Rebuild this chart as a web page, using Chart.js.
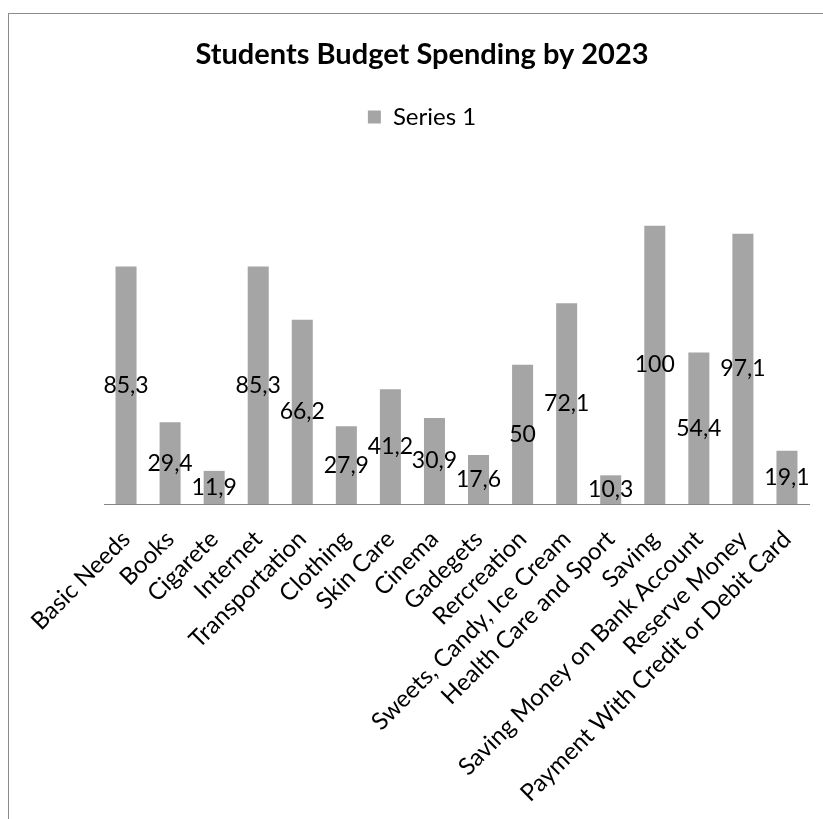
<!DOCTYPE html>
<html>
<head>
<meta charset="utf-8">
<title>Students Budget Spending by 2023</title>
<script src="https://cdn.jsdelivr.net/npm/chart.js@4.4.1/dist/chart.umd.min.js"></script>
<style>
  html, body { margin: 0; padding: 0; background: #fff; overflow: hidden; }
  #frame {
    position: absolute; left: 8px; top: 13px; width: 900px; height: 900px;
    border-left: 1px solid #8c8c8c; border-top: 1px solid #8c8c8c;
  }
  #budgetChart { position: absolute; left: 0; top: 0; }
</style>
</head>
<body>
<div id="frame"></div>
<canvas id="budgetChart" width="844" height="819"></canvas>
<script>
const categories = [
  'Basic Needs', 'Books', 'Cigarete', 'Internet', 'Transportation', 'Clothing',
  'Skin Care', 'Cinema', 'Gadegets', 'Rercreation', 'Sweets, Candy, Ice Cream',
  'Health Care and Sport', 'Saving', 'Saving Money on Bank Account',
  'Reserve Money', 'Payment With Credit or Debit Card'
];
const series1 = [85.3, 29.4, 11.9, 85.3, 66.2, 27.9, 41.2, 30.9, 17.6, 50, 72.1, 10.3, 100, 54.4, 97.1, 19.1];
const yMax = 120;

const FONT = 'Lato, "Open Sans", sans-serif';

document.addEventListener('DOMContentLoaded', function () {
  const ctx = document.getElementById('budgetChart').getContext('2d');

  // value labels in the middle of each bar, comma as decimal mark
  const barValueLabels = {
    id: 'barValueLabels',
    afterDatasetsDraw(chart) {
      const c = chart.ctx;
      c.save();
      c.font = '23px ' + FONT;
      c.fillStyle = '#000';
      c.textAlign = 'center';
      c.textBaseline = 'middle';
      chart.getDatasetMeta(0).data.forEach((bar, i) => {
        const txt = String(series1[i]).replace('.', ',');
        c.fillText(txt, bar.x, (bar.y + bar.base) / 2);
      });
      c.restore();
    }
  };

  // extra room under the legend
  const legendGap = {
    id: 'legendGap',
    beforeInit(chart) {
      const origFit = chart.legend.fit;
      chart.legend.fit = function () {
        origFit.bind(chart.legend)();
        this.height += 31;
      };
    }
  };

  // invisible side scales just to reserve room left/right of the plot
  const spacer = (w) => ({
    display: true,
    grid: { display: false },
    border: { display: false },
    ticks: { display: false },
    afterFit(scale) { scale.width = w; }
  });

  new Chart(ctx, {
    type: 'bar',
    data: {
      labels: categories,
      datasets: [{
        label: 'Series 1',
        data: series1,
        backgroundColor: '#a5a5a5',
        borderWidth: 0,
        categoryPercentage: 1,
        barPercentage: 0.477,
        yAxisID: 'y'
      }]
    },
    options: {
      responsive: false,
      animation: false,
      layout: { padding: 0 },
      plugins: {
        title: {
          display: true,
          text: 'Students Budget Spending by 2023',
          color: '#000',
          font: { family: FONT, size: 29, weight: 'bold', lineHeight: 1.2 },
          padding: { top: 37.6, bottom: 9 }
        },
        legend: {
          display: true,
          position: 'top',
          labels: {
            color: '#000',
            font: { family: FONT, size: 24 },
            boxWidth: 13,
            boxHeight: 13,
            padding: 23.6
          }
        },
        tooltip: { enabled: false }
      },
      scales: {
        x: {
          grid: { display: false, drawTicks: false },
          border: { display: true, color: '#868686', width: 1 },
          ticks: {
            color: '#000',
            font: { family: FONT, size: 24 },
            autoSkip: false,
            maxRotation: 45,
            minRotation: 45,
            padding: 21
          },
          afterFit(scale) { scale.height = 819 - 504; }
        },
        y: Object.assign(spacer(104), { position: 'left', min: 0, max: yMax }),
        yRight: Object.assign(spacer(35), { position: 'right', min: 0, max: yMax })
      }
    },
    plugins: [barValueLabels, legendGap]
  });
});
</script>
</body>
</html>
